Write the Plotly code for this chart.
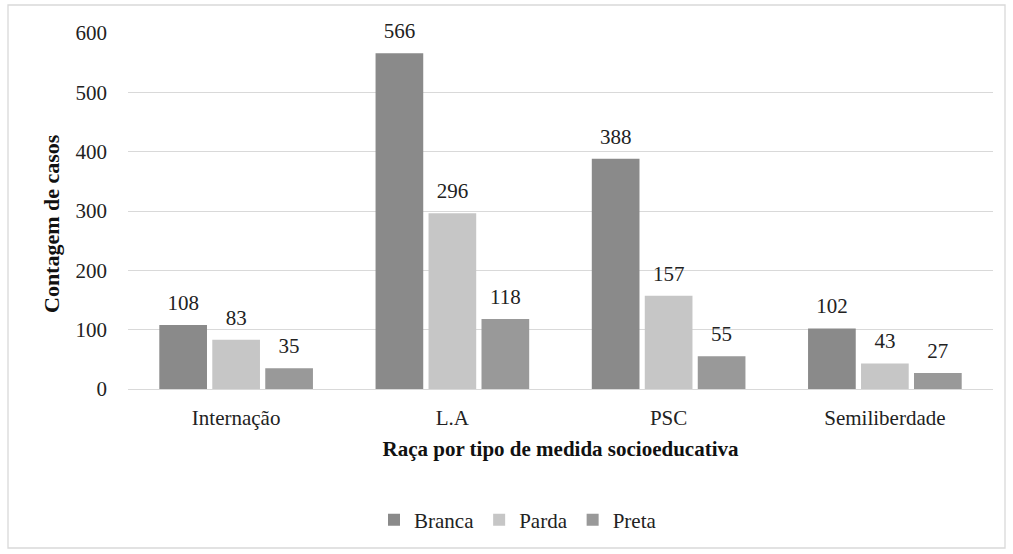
import plotly.graph_objects as go

categories = ["Internação", "L.A", "PSC", "Semiliberdade"]
branca = [108, 566, 388, 102]
parda = [83, 296, 157, 43]
preta = [35, 118, 55, 27]
series_names = ["Branca", "Parda", "Preta"]
series_colors = ["#8a8a8a", "#c6c6c6", "#999999"]

FONT = "Times New Roman, Liberation Serif, serif"
FS = 21

fig = go.Figure()
for name, vals, col in zip(series_names, [branca, parda, preta], series_colors):
    fig.add_trace(go.Bar(
        name=name, x=categories, y=vals,
        marker=dict(color=col, line=dict(width=0)),
        offsetgroup=name,
    ))
for name, vals in zip(series_names, [branca, parda, preta]):
    fig.add_trace(go.Scatter(
        x=categories, y=vals, mode="markers+text",
        marker=dict(size=14, opacity=0), offsetgroup=name,
        text=[str(v) for v in vals], textposition="top center",
        textfont=dict(family=FONT, size=FS, color="#222"),
        cliponaxis=False, showlegend=False, hoverinfo="skip",
    ))

W, H = 1013, 554
ml, mr, mt, mb = 128, 20, 33, 165
pw, ph = W - ml - mr, H - mt - mb

def px(x):
    return (x - ml) / pw

def py(y):
    return (H - mb - y) / ph

fig.update_layout(
    width=W, height=H,
    margin=dict(l=ml, r=mr, t=mt, b=mb),
    paper_bgcolor="white", plot_bgcolor="white",
    barmode="group", bargap=0.265, bargroupgap=0.1,
    scattermode="group", scattergap=0.265,
    font=dict(family=FONT, size=FS, color="#222"),
    showlegend=True,
    legend=dict(orientation="h", x=px(518), xanchor="center", y=py(520), yanchor="middle",
                font=dict(family=FONT, size=FS, color="#222"), itemwidth=30,
                traceorder="normal"),
    xaxis=dict(showgrid=False, showline=False, ticks="", ticklabelstandoff=14,
               tickfont=dict(family=FONT, size=FS, color="#222"),
               title=dict(text="<b>Raça por tipo de medida socioeducativa</b>",
                          font=dict(family=FONT, size=FS, color="#111"), standoff=12)),
    yaxis=dict(range=[0, 600], dtick=100, showgrid=True, gridcolor="#d9d9d9", gridwidth=1.3,
               zeroline=True, zerolinecolor="#d9d9d9", zerolinewidth=1.3,
               showline=False, ticks="", ticklabelstandoff=20,
               tickfont=dict(family=FONT, size=FS, color="#222")),
    annotations=[dict(text="<b>Contagem de casos</b>", xref="paper", yref="paper",
                      x=px(52), y=py(224), xanchor="center", yanchor="middle",
                      textangle=-90, showarrow=False,
                      font=dict(family=FONT, size=22, color="#111"))],
    shapes=[dict(type="rect", xref="paper", yref="paper",
                 x0=px(8), x1=px(1005), y0=py(548), y1=py(5),
                 line=dict(color="#d9d9d9", width=1.3), fillcolor="rgba(0,0,0,0)",
                 layer="below")],
)

fig.write_html("out.html", config={"displayModeBar": False},
               post_script="document.body.style.margin='0';")
